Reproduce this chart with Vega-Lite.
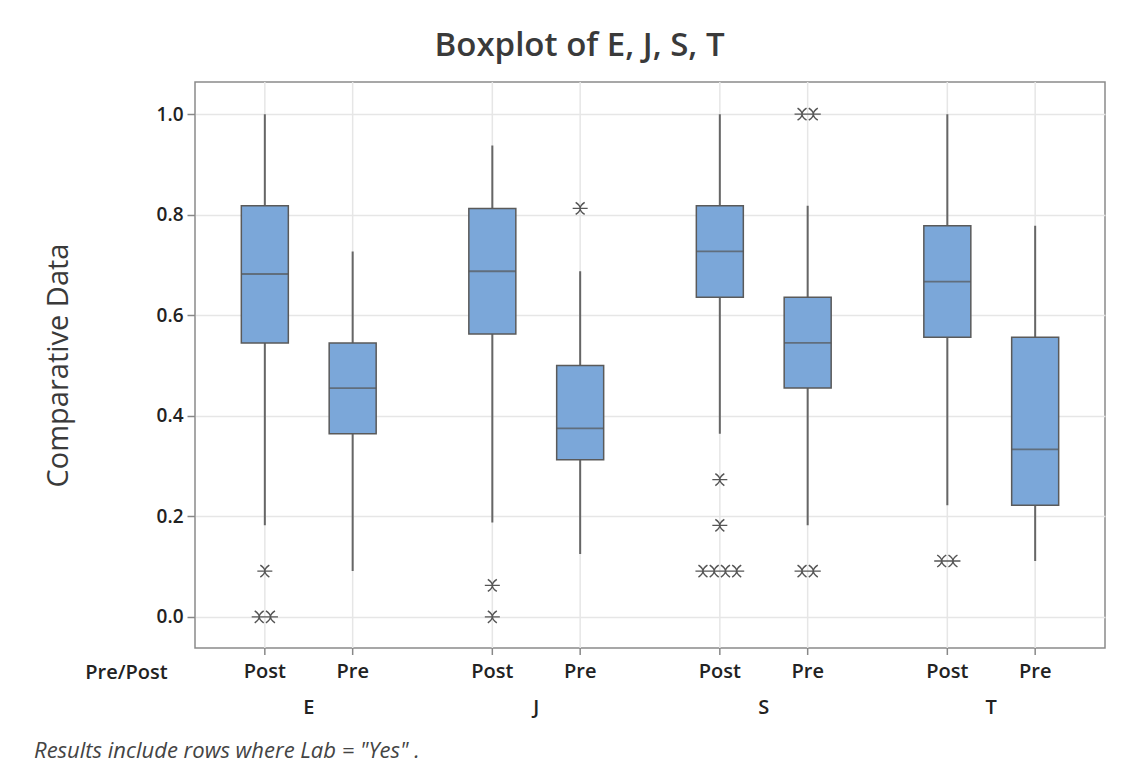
{
  "$schema": "https://vega.github.io/schema/vega-lite/v6.json",
  "background": "white",
  "padding": {"left": 33, "top": 29, "right": 10, "bottom": 5},
  "config": {
    "font": "Open Sans",
    "view": {"stroke": "#8a8a8a", "strokeWidth": 1.5},
    "concat": {"spacing": 0}
  },
  "title": {"text": "Boxplot of E, J, S, T", "fontSize": 33, "fontWeight": 600, "color": "#3a3a3a", "anchor": "middle", "offset": 18, "dx": 10},
  "datasets": {
    "boxes": [
      {"group": "E", "prepost": "Post", "lower": 0.182, "q1": 0.545, "median": 0.682, "q3": 0.818, "upper": 1.0},
      {"group": "E", "prepost": "Pre", "lower": 0.091, "q1": 0.364, "median": 0.455, "q3": 0.545, "upper": 0.727},
      {"group": "J", "prepost": "Post", "lower": 0.1875, "q1": 0.5625, "median": 0.6875, "q3": 0.8125, "upper": 0.9375},
      {"group": "J", "prepost": "Pre", "lower": 0.125, "q1": 0.3125, "median": 0.375, "q3": 0.5, "upper": 0.6875},
      {"group": "S", "prepost": "Post", "lower": 0.364, "q1": 0.636, "median": 0.727, "q3": 0.818, "upper": 1.0},
      {"group": "S", "prepost": "Pre", "lower": 0.182, "q1": 0.455, "median": 0.545, "q3": 0.636, "upper": 0.818},
      {"group": "T", "prepost": "Post", "lower": 0.222, "q1": 0.556, "median": 0.667, "q3": 0.778, "upper": 1.0},
      {"group": "T", "prepost": "Pre", "lower": 0.111, "q1": 0.222, "median": 0.333, "q3": 0.556, "upper": 0.778}
    ],
    "outliers": [
      {"group": "E", "prepost": "Post", "value": 0.091},
      {"group": "E", "prepost": "Post", "value": 0.0},
      {"group": "E", "prepost": "Post", "value": 0.0},
      {"group": "J", "prepost": "Post", "value": 0.0625},
      {"group": "J", "prepost": "Post", "value": 0.0},
      {"group": "J", "prepost": "Pre", "value": 0.8125},
      {"group": "S", "prepost": "Post", "value": 0.273},
      {"group": "S", "prepost": "Post", "value": 0.182},
      {"group": "S", "prepost": "Post", "value": 0.091},
      {"group": "S", "prepost": "Post", "value": 0.091},
      {"group": "S", "prepost": "Post", "value": 0.091},
      {"group": "S", "prepost": "Post", "value": 0.091},
      {"group": "S", "prepost": "Pre", "value": 1.0},
      {"group": "S", "prepost": "Pre", "value": 1.0},
      {"group": "S", "prepost": "Pre", "value": 0.091},
      {"group": "S", "prepost": "Pre", "value": 0.091},
      {"group": "T", "prepost": "Post", "value": 0.111},
      {"group": "T", "prepost": "Post", "value": 0.111}
    ]
  },
  "vconcat": [
    {
      "width": 910,
      "height": 566,
      "title": {"text": "Results include rows where  Lab = \"Yes\" .", "orient": "bottom", "anchor": "start", "fontSize": 22, "fontStyle": "italic", "fontWeight": "normal", "color": "#444", "offset": 24, "dx": -10},
      "data": {"name": "boxes"},
      "encoding": {
        "x": {
          "field": "group", "type": "nominal", "title": "Pre/Post",
          "scale": {"paddingInner": 0, "paddingOuter": 0},
          "axis": {"labelAngle": 0, "ticks": false, "domain": false, "grid": false, "labelPadding": 49, "labelFontSize": 20, "labelFontWeight": 600, "labelColor": "#222", "titleX": -69, "titleY": 24, "titleAngle": 0, "titleAlign": "center", "titleBaseline": "middle", "titleFontSize": 20, "titleFontWeight": 600, "titleColor": "#222"}
        },
        "xOffset": {"field": "prepost", "type": "nominal", "sort": ["Post", "Pre"], "scale": {"paddingInner": 0, "paddingOuter": 0.295}}
      },
      "layer": [
        {
          "mark": {"type": "rule", "color": "#e6e6e6", "strokeWidth": 1.5},
          "encoding": {}
        },
        {
          "mark": {"type": "rule", "color": "#888", "strokeWidth": 1.5, "y2Offset": 7},
          "encoding": {"y": {"value": "height"}, "y2": {"value": "height"}}
        },
        {
          "mark": {"type": "rule", "color": "#666", "strokeWidth": 2},
          "encoding": {
            "y": {"field": "lower", "type": "quantitative", "title": "Comparative Data", "scale": {"domain": [-0.062, 1.064], "nice": false, "zero": false},
              "axis": {"values": [0, 0.2, 0.4, 0.6, 0.8, 1.0], "format": ".1f", "tickSize": 8, "tickColor": "#888", "tickWidth": 1.5, "labelFontSize": 19, "labelFontWeight": 600, "labelColor": "#222", "labelPadding": 4, "domain": false, "gridColor": "#e6e6e6", "gridWidth": 1.5, "titleFontSize": 29, "titleFontWeight": "normal", "titleColor": "#3a3a3a", "titlePadding": 83}},
            "y2": {"field": "upper"}
          }
        },
        {
          "mark": {"type": "bar", "size": 47, "fill": "#7ba7d9", "stroke": "#5a5a5a", "strokeWidth": 1.5},
          "encoding": {
            "y": {"field": "q1", "type": "quantitative", "title": "Comparative Data", "scale": {"domain": [-0.062, 1.064], "nice": false, "zero": false},
              "axis": {"values": [0, 0.2, 0.4, 0.6, 0.8, 1.0], "format": ".1f", "tickSize": 8, "tickColor": "#888", "tickWidth": 1.5, "labelFontSize": 19, "labelFontWeight": 600, "labelColor": "#222", "labelPadding": 4, "domain": false, "gridColor": "#e6e6e6", "gridWidth": 1.5, "titleFontSize": 29, "titleFontWeight": "normal", "titleColor": "#3a3a3a", "titlePadding": 83}},
            "y2": {"field": "q3"}
          }
        },
        {
          "mark": {"type": "tick", "size": 47, "thickness": 1.8, "color": "#555", "orient": "horizontal"},
          "encoding": {
            "y": {"field": "median", "type": "quantitative", "title": "Comparative Data", "scale": {"domain": [-0.062, 1.064], "nice": false, "zero": false},
              "axis": {"values": [0, 0.2, 0.4, 0.6, 0.8, 1.0], "format": ".1f", "tickSize": 8, "tickColor": "#888", "tickWidth": 1.5, "labelFontSize": 19, "labelFontWeight": 600, "labelColor": "#222", "labelPadding": 4, "domain": false, "gridColor": "#e6e6e6", "gridWidth": 1.5, "titleFontSize": 29, "titleFontWeight": "normal", "titleColor": "#3a3a3a", "titlePadding": 83}}
          }
        },
        {
          "data": {"name": "outliers"},
          "transform": [{"aggregate": [{"op": "count", "as": "n"}], "groupby": ["group", "prepost", "value"]}],
          "mark": {"type": "point", "filled": false, "color": "#555", "strokeWidth": 1.4, "size": 225, "opacity": 1},
          "encoding": {
            "y": {"field": "value", "type": "quantitative", "title": "Comparative Data", "scale": {"domain": [-0.062, 1.064], "nice": false, "zero": false},
              "axis": {"values": [0, 0.2, 0.4, 0.6, 0.8, 1.0], "format": ".1f", "tickSize": 8, "tickColor": "#888", "tickWidth": 1.5, "labelFontSize": 19, "labelFontWeight": 600, "labelColor": "#222", "labelPadding": 4, "domain": false, "gridColor": "#e6e6e6", "gridWidth": 1.5, "titleFontSize": 29, "titleFontWeight": "normal", "titleColor": "#3a3a3a", "titlePadding": 83}},
            "shape": {"field": "n", "type": "ordinal", "legend": null, "scale": {"domain": [1, 2, 3, 4], "range": [
              "M-1,0L1,0M-0.6,-0.8Q0.6,0,-0.6,0.8M0.6,-0.8Q-0.6,0,0.6,0.8",
              "M-1.75,0L0.25,0M-1.35,-0.8Q-0.15,0,-1.35,0.8M-0.15,-0.8Q-1.35,0,-0.15,0.8M-0.25,0L1.75,0M0.15,-0.8Q1.35,0,0.15,0.8M1.35,-0.8Q0.15,0,1.35,0.8",
              "M-2.5,0L-0.5,0M-2.1,-0.8Q-0.9,0,-2.1,0.8M-0.9,-0.8Q-2.1,0,-0.9,0.8M-1,0L1,0M-0.6,-0.8Q0.6,0,-0.6,0.8M0.6,-0.8Q-0.6,0,0.6,0.8M0.5,0L2.5,0M0.9,-0.8Q2.1,0,0.9,0.8M2.1,-0.8Q0.9,0,2.1,0.8",
              "M-3.25,0L-1.25,0M-2.85,-0.8Q-1.65,0,-2.85,0.8M-1.65,-0.8Q-2.85,0,-1.65,0.8M-1.75,0L0.25,0M-1.35,-0.8Q-0.15,0,-1.35,0.8M-0.15,-0.8Q-1.35,0,-0.15,0.8M-0.25,0L1.75,0M0.15,-0.8Q1.35,0,0.15,0.8M1.35,-0.8Q0.15,0,1.35,0.8M1.25,0L3.25,0M1.65,-0.8Q2.85,0,1.65,0.8M2.85,-0.8Q1.65,0,2.85,0.8"
            ]}}
          }
        },
        {
          "mark": {"type": "text", "fontSize": 20, "fontWeight": 600, "color": "#222", "baseline": "middle", "align": "center", "dy": 24},
          "encoding": {"y": {"value": "height"}, "text": {"field": "prepost"}}
        }
      ]
    }
  ]
}
